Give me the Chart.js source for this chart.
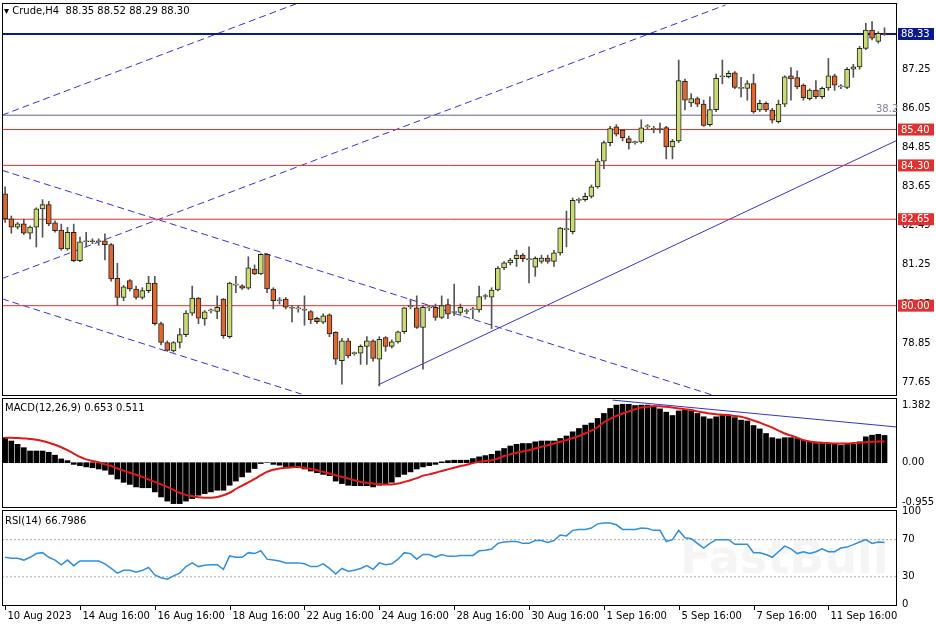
<!DOCTYPE html>
<html>
<head>
<meta charset="utf-8">
<script src="https://cdn.jsdelivr.net/npm/chart.js@4.4.0/dist/chart.umd.min.js"></script>
<style>
  body { margin: 0; background: #fff; width: 936px; height: 624px; overflow: hidden; position: relative; }
  .pane { position: absolute; left: 0; width: 936px; }
  #main { top: 0; height: 397px; }
  #macd { top: 397px; height: 112px; }
  #rsi { top: 503px; height: 121px; }
</style>
</head>
<body>
<div class="pane" id="main"><canvas id="mainChart"></canvas></div>
<div class="pane" id="rsi"><canvas id="rsiChart"></canvas></div>
<div class="pane" id="macd"><canvas id="macdChart"></canvas></div>
<script>
// --- Datos (velas H4 de Crude) ---
const openP = [83.43,82.66,82.41,82.51,82.22,82.41,82.97,83.10,82.54,82.32,81.74,82.25,81.38,81.96,81.99,81.96,81.99,81.87,80.84,80.25,
  80.77,80.51,80.25,80.46,80.69,79.45,78.87,78.61,78.87,79.11,79.77,80.23,79.59,79.84,79.82,80.20,79.05,80.63,80.61,80.54,
  81.12,80.97,81.57,80.51,80.15,80.20,79.92,79.90,79.86,79.82,79.61,79.49,79.72,79.18,78.31,78.92,78.53,78.54,78.75,78.92,
  78.36,79.02,78.75,78.89,79.20,79.97,79.93,79.33,79.93,79.95,79.64,80.03,79.79,79.79,79.82,79.87,79.87,80.28,80.26,80.48,
  81.16,81.31,81.44,81.55,81.41,81.18,81.36,81.46,81.36,81.62,82.33,82.27,83.23,83.25,83.35,83.64,84.43,85.00,85.48,85.38,
  85.12,85.00,85.02,85.48,85.41,85.41,85.46,84.87,85.05,86.88,86.22,86.35,86.18,85.55,86.01,87.02,87.02,87.14,86.66,86.66,
  86.81,86.00,86.20,86.00,85.64,86.18,87.05,86.99,86.76,86.35,86.61,86.41,86.68,87.05,86.71,86.69,87.25,87.32,87.89,88.45,
  88.10,88.35];
const highP = [83.64,82.75,82.55,82.65,82.45,83.00,83.25,83.20,82.60,82.50,82.40,82.50,82.10,82.25,82.05,82.05,82.20,81.90,81.30,80.62,
  80.80,80.60,80.55,80.90,80.90,79.50,78.92,78.90,79.30,79.85,80.60,80.25,79.85,79.90,80.30,80.22,80.72,80.90,80.65,81.50,
  81.25,81.60,81.60,80.55,80.25,80.25,80.00,80.00,80.30,79.85,79.65,79.75,79.75,79.20,79.00,79.00,78.58,78.80,79.05,78.95,
  79.05,79.05,78.95,79.22,79.95,80.20,80.30,80.00,80.00,80.05,80.30,80.20,80.66,80.05,79.90,79.95,80.60,80.35,80.55,81.20,
  81.35,81.45,81.70,81.60,81.80,81.50,81.55,81.55,81.70,82.40,82.90,83.30,83.30,83.45,83.70,84.50,85.05,85.50,85.55,85.40,
  85.20,85.05,85.70,85.55,85.50,85.60,85.50,85.10,87.53,86.95,86.50,86.40,86.30,86.40,87.10,87.53,87.20,87.18,87.00,86.90,
  87.10,86.30,86.25,86.05,86.30,87.05,87.30,87.20,86.80,86.65,86.90,86.70,87.58,87.10,86.78,87.30,87.40,87.95,88.66,88.71,
  88.40,88.52];
const lowP = [82.55,82.22,82.35,82.18,82.05,81.80,82.10,82.45,82.25,81.70,81.70,81.35,81.35,81.80,81.90,81.85,81.40,80.75,80.00,80.15,
  80.45,80.20,80.20,80.40,79.40,78.80,78.60,78.58,78.70,79.05,79.70,79.45,79.40,79.78,79.60,79.00,79.00,80.40,80.50,80.50,
  80.95,80.95,80.40,79.90,80.05,79.90,79.50,79.80,79.40,79.45,79.45,79.45,79.05,78.20,77.59,78.40,78.48,78.20,78.20,78.30,
  77.54,78.60,78.70,78.85,79.15,79.90,79.30,78.05,79.85,79.55,79.60,79.60,79.70,79.70,79.75,79.60,79.80,80.20,79.30,80.45,
  81.10,81.25,81.20,81.35,80.70,80.90,81.30,81.30,81.20,81.55,81.80,82.20,83.15,83.20,83.30,83.60,84.20,84.90,85.20,85.05,
  84.80,84.95,84.98,85.42,85.30,85.30,84.50,84.50,85.00,86.00,86.10,86.10,85.50,85.50,85.95,86.80,86.98,86.65,86.40,86.30,
  85.90,85.95,85.95,85.60,85.60,86.10,86.30,86.65,86.30,86.30,86.35,86.35,86.60,86.60,86.65,86.65,87.00,87.25,87.85,88.15,
  88.05,88.29];
const closeP = [82.66,82.41,82.51,82.22,82.41,82.97,83.10,82.51,82.30,81.74,82.25,81.38,81.96,81.99,81.96,81.97,81.87,80.82,80.25,80.58,
  80.51,80.25,80.46,80.69,79.45,78.87,78.63,78.87,79.11,79.77,80.23,79.62,79.81,79.86,79.95,79.08,80.69,80.64,80.54,81.16,
  80.97,81.57,80.51,80.15,80.16,79.95,79.93,79.91,79.87,79.56,79.51,79.69,79.13,78.36,78.92,78.46,78.54,78.75,78.92,78.38,
  78.97,78.75,78.89,79.20,79.93,79.98,79.33,79.95,79.94,79.64,80.00,79.74,79.80,79.95,79.83,79.88,80.28,80.29,80.48,81.15,
  81.31,81.40,81.55,81.44,81.42,81.45,81.46,81.36,81.62,82.38,82.34,83.23,83.24,83.35,83.64,84.43,85.00,85.43,85.26,85.15,
  85.00,85.01,85.45,85.49,85.42,85.40,84.87,85.04,86.90,86.30,86.35,86.18,85.53,86.01,86.97,87.04,87.12,86.69,86.67,86.81,
  85.94,86.20,86.00,85.69,86.18,87.02,86.95,86.71,86.38,86.61,86.41,86.66,87.05,86.76,86.72,87.25,87.32,87.89,88.45,88.20,
  88.35,88.30];

const macdHist = [0.60,0.52,0.44,0.36,0.28,0.28,0.28,0.25,0.18,0.09,0.05,-0.04,-0.07,-0.10,-0.12,-0.15,-0.18,-0.28,-0.39,-0.47,
  -0.52,-0.58,-0.60,-0.60,-0.70,-0.82,-0.92,-0.98,-0.98,-0.92,-0.86,-0.78,-0.74,-0.70,-0.66,-0.66,-0.54,-0.44,-0.34,-0.23,
  -0.14,-0.02,0.00,-0.04,-0.06,-0.10,-0.12,-0.12,-0.15,-0.20,-0.24,-0.28,-0.31,-0.44,-0.50,-0.54,-0.55,-0.55,-0.55,-0.58,
  -0.54,-0.52,-0.47,-0.34,-0.28,-0.22,-0.15,-0.10,-0.07,-0.04,0.02,0.05,0.06,0.06,0.06,0.10,0.14,0.17,0.20,0.28,
  0.34,0.40,0.44,0.46,0.46,0.50,0.52,0.52,0.52,0.58,0.64,0.74,0.82,0.90,0.95,1.06,1.18,1.30,1.38,1.40,
  1.40,1.37,1.38,1.38,1.34,1.29,1.21,1.13,1.24,1.26,1.24,1.18,1.10,1.05,1.10,1.13,1.13,1.08,1.02,1.00,
  0.89,0.81,0.70,0.60,0.57,0.60,0.60,0.58,0.54,0.50,0.46,0.46,0.46,0.44,0.42,0.44,0.44,0.50,0.62,0.66,
  0.68,0.653];
const macdSignal = [0.60,0.60,0.59,0.58,0.57,0.55,0.52,0.48,0.43,0.37,0.30,0.22,0.14,0.08,0.04,0.01,-0.04,-0.08,-0.14,-0.19,
  -0.24,-0.29,-0.34,-0.40,-0.46,-0.52,-0.58,-0.65,-0.72,-0.77,-0.80,-0.83,-0.84,-0.84,-0.82,-0.78,-0.72,-0.63,-0.55,-0.47,
  -0.39,-0.30,-0.22,-0.17,-0.14,-0.12,-0.11,-0.10,-0.12,-0.15,-0.18,-0.22,-0.26,-0.30,-0.34,-0.38,-0.42,-0.46,-0.48,-0.50,
  -0.51,-0.52,-0.52,-0.50,-0.46,-0.42,-0.37,-0.31,-0.28,-0.24,-0.20,-0.16,-0.12,-0.08,-0.05,-0.01,0.02,0.04,0.06,0.10,
  0.16,0.20,0.24,0.27,0.30,0.34,0.38,0.42,0.46,0.50,0.54,0.59,0.64,0.70,0.77,0.85,0.97,1.05,1.12,1.18,
  1.23,1.28,1.32,1.34,1.36,1.35,1.34,1.32,1.30,1.28,1.26,1.23,1.20,1.18,1.16,1.15,1.14,1.12,1.10,1.06,
  1.01,0.96,0.90,0.84,0.77,0.70,0.65,0.60,0.54,0.51,0.49,0.48,0.47,0.46,0.46,0.46,0.47,0.48,0.49,0.50,
  0.51,0.511];
const rsiValues = [51,50,50,48,51,55,56,51,48,43,48,42,47,47,47,47,44,39,34,37,
  37,35,37,40,32,29,27.5,31,34,41,45,41,42.5,43,43,38,52.5,51,51,56,
  55,58,49,48,47,45,45,45,44,41,41,44,39,33,39,36,37,39,42,38,
  45,43,44,49,56,55,49,54,54,51,54,52,52,53,53,53,58,58.5,60,66,
  67.5,68,68,66,66,69,69,67,69,75,74,80,81,81,82.5,87,88,88,86,81,
  81,81,82.5,82,80,80,68,70,80,72,71,66,61,66,70,70,70,65,65,65,
  56,56,54,51,57,63,60,55,57,55,57,60,57,57,61,62,64.6,67.5,70,66,
  67.5,66.8];

const timeLabels = ['10 Aug 2023','14 Aug 16:00','16 Aug 16:00','18 Aug 16:00','22 Aug 16:00','24 Aug 16:00',
  '28 Aug 16:00','30 Aug 16:00','1 Sep 16:00','5 Sep 16:00','7 Sep 16:00','11 Sep 16:00'];
const timeLabelIndex = [0,12,24,36,48,60,72,84,96,108,120,132];

const priceTicks = [87.25,86.05,84.85,83.65,82.45,81.25,80.05,78.85,77.65];
const levelLines = [85.40,84.30,82.65,80.00];
const currentPrice = 88.33;
const fibLevel = 85.84;
// lineas de tendencia: [x1, y1, x2, y2] en (indice de vela, precio)
const dashedLines = [[-0.5,85.84,47,89.28],[-0.5,80.83,115.5,89.22],[-0.5,84.15,113.9,77.23],[-0.5,80.21,47.5,77.29]];
const solidTrend = [59.8,77.57,143,85.07];
const macdTrend = [97.4,1.50,143,0.855];

const idx = closeP.map((_, i) => i);
const X_MIN = -0.5, X_MAX = 143;
const FONT = "'DejaVu Sans', sans-serif";

function frame(extra) {
    return {
        id: 'frame',
        afterDraw(chart) {
            const { ctx, chartArea: a } = chart;
            ctx.save();
            ctx.strokeStyle = '#000';
            ctx.lineWidth = 1;
            ctx.strokeRect(a.left + 0.5, a.top + 0.5, a.right - a.left - 1, a.bottom - a.top - 1);
            ctx.restore();
            if (extra) extra(chart);
        }
    };
}

function rightAxis(min, max, ticks, fmt) {
    return {
        position: 'right', min: min, max: max,
        grid: { display: false, drawTicks: true, tickLength: 3, tickColor: '#000' },
        border: { display: false },
        afterBuildTicks: s => { s.ticks = ticks.map(v => ({ value: v })); },
        afterFit: s => { s.width = 39; s.paddingTop = 0; s.paddingBottom = 0; },
        ticks: { color: '#000', font: { size: 10, family: FONT }, padding: 2, callback: fmt }
    };
}

const xAxis = { type: 'linear', min: X_MIN, max: X_MAX, offset: false, display: false };

function tag(ctx, y, text, bg, fg) {
    ctx.fillStyle = bg;
    ctx.fillRect(898, y - 6, 36, 12);
    ctx.fillStyle = fg;
    ctx.font = '10px ' + FONT;
    ctx.textBaseline = 'middle';
    ctx.textAlign = 'left';
    ctx.fillText(text, 901, y + 0.5);
}

// --- Grafica principal ---
const lineDs = (pts, color, dash, width) => ({
    type: 'line', data: [{ x: pts[0], y: pts[1] }, { x: pts[2], y: pts[3] }],
    borderColor: color, borderWidth: width || 1, borderDash: dash || [], pointRadius: 0, order: 5
});
const hLine = (y, color, width) => lineDs([X_MIN, y, X_MAX, y], color, [], width);

new Chart(document.getElementById('mainChart'), {
    type: 'bar',
    data: {
        datasets: [
            ...levelLines.map(v => hLine(v, '#e03030', 1)),
            hLine(fibLevel, '#6060a0', 1),
            hLine(currentPrice, '#0a1a8c', 2),
            ...dashedLines.map(l => lineDs(l, '#3535c8', [7, 4], 1)),
            lineDs(solidTrend, '#3535c8', [], 1),
            {
                data: idx.map(i => ({ x: i, y: [lowP[i], highP[i]] })),
                backgroundColor: '#555', barThickness: 1, grouped: false, order: 2
            },
            {
                data: idx.map(i => ({ x: i, y: [openP[i], closeP[i]] })),
                backgroundColor: idx.map(i => closeP[i] >= openP[i] ? '#c9db72' : '#e2672e'),
                borderColor: '#222', borderWidth: 1, borderSkipped: false,
                barThickness: 5, minBarLength: 1, grouped: false, order: 1
            }
        ]
    },
    options: {
        responsive: true, maintainAspectRatio: false, animation: false,
        layout: { padding: { top: 3, left: 2, bottom: 1, right: 0 } },
        plugins: { legend: { display: false }, tooltip: { enabled: false } },
        scales: {
            x: xAxis,
            y: rightAxis(77.23, 89.28, priceTicks, v => v.toFixed(2))
        }
    },
    plugins: [frame(chart => {
        const { ctx } = chart;
        const ys = chart.scales.y;
        ctx.save();
        levelLines.forEach(v => tag(ctx, ys.getPixelForValue(v), v.toFixed(2), '#e03030', '#fff'));
        tag(ctx, ys.getPixelForValue(currentPrice), currentPrice.toFixed(2), '#0a1a8c', '#fff');
        ctx.fillStyle = '#8080a0';
        ctx.font = '10px ' + FONT;
        ctx.textAlign = 'left';
        ctx.textBaseline = 'bottom';
        ctx.fillText('38.2', 876, ys.getPixelForValue(fibLevel) - 1);
        ctx.fillStyle = '#000';
        ctx.font = '10px ' + FONT;
        ctx.textBaseline = 'middle';
        ctx.fillText('\u25BE Crude,H4  88.35 88.52 88.29 88.30', 4, 11);
        ctx.restore();
    })]
});

// --- MACD ---
new Chart(document.getElementById('macdChart'), {
    type: 'bar',
    data: {
        datasets: [
            { data: idx.map(i => ({ x: i, y: macdHist[i] })), backgroundColor: '#000', barThickness: 5, order: 3 },
            { type: 'line', data: idx.map(i => ({ x: i, y: macdSignal[i] })), borderColor: '#e01818', borderWidth: 2, pointRadius: 0, tension: 0.3, order: 1 },
            lineDs(macdTrend, '#3535c8', [], 1)
        ]
    },
    options: {
        responsive: true, maintainAspectRatio: false, animation: false,
        layout: { padding: { top: 1, left: 2, bottom: 1, right: 0 } },
        plugins: { legend: { display: false }, tooltip: { enabled: false } },
        scales: {
            x: xAxis,
            y: rightAxis(-1.085, 1.55, [1.382, 0, -0.955], v => v === 0 ? '0.00' : String(v))
        }
    },
    plugins: [frame(chart => {
        const { ctx } = chart;
        ctx.save();
        ctx.fillStyle = '#000';
        ctx.font = '10px ' + FONT;
        ctx.textBaseline = 'middle';
        ctx.fillText('MACD(12,26,9) 0.653 0.511', 5, 11);
        ctx.restore();
    })]
});

// --- RSI ---
new Chart(document.getElementById('rsiChart'), {
    type: 'line',
    data: {
        datasets: [
            { data: idx.map(i => ({ x: i, y: rsiValues[i] })), borderColor: '#2f8fdc', borderWidth: 1.5, pointRadius: 0, order: 1 },
            { data: [{ x: X_MIN, y: 70 }, { x: X_MAX, y: 70 }], borderColor: '#aaa', borderWidth: 1, borderDash: [2, 2], pointRadius: 0, order: 2 },
            { data: [{ x: X_MIN, y: 30 }, { x: X_MAX, y: 30 }], borderColor: '#aaa', borderWidth: 1, borderDash: [2, 2], pointRadius: 0, order: 2 }
        ]
    },
    options: {
        responsive: true, maintainAspectRatio: false, animation: false,
        layout: { padding: { top: 7, left: 2, bottom: 18, right: 0 } },
        plugins: { legend: { display: false }, tooltip: { enabled: false } },
        scales: {
            x: xAxis,
            y: rightAxis(-1.4, 101.9, [100, 70, 30, 0], v => String(v))
        }
    },
    plugins: [{
        id: 'watermark',
        beforeDatasetsDraw(chart) {
            const { ctx } = chart;
            ctx.save();
            ctx.fillStyle = 'rgba(200,200,200,0.18)';
            ctx.font = 'bold 46px ' + FONT;
            ctx.textBaseline = 'middle';
            ctx.fillText('FastBull', 680, 58);
            ctx.restore();
        }
    }, frame(chart => {
        const { ctx, chartArea: a } = chart;
        const xs = chart.scales.x;
        ctx.save();
        ctx.fillStyle = '#000';
        ctx.font = '10px ' + FONT;
        ctx.textBaseline = 'middle';
        ctx.fillText('RSI(14) 66.7986', 5, 18);
        ctx.strokeStyle = '#000';
        timeLabelIndex.forEach((ix, k) => {
            const px = Math.round(xs.getPixelForValue(ix)) + 0.5;
            ctx.beginPath();
            ctx.moveTo(px, a.bottom);
            ctx.lineTo(px, a.bottom + 4);
            ctx.stroke();
            ctx.fillText(timeLabels[k], px + 2, a.bottom + 10);
        });
        ctx.restore();
    })]
});
</script>
</body>
</html>
